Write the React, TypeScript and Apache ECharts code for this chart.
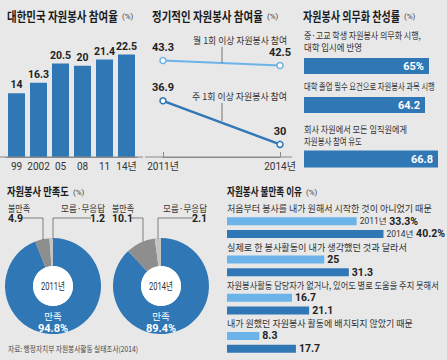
import React, { useEffect, useRef } from 'react';
import * as echarts from 'echarts';

// ---------- data ----------
// Panel 1: 대한민국 자원봉사 참여율
const yearLabels = ['99', '2002', '05', '08', '11', '14년'];
const participation = [14, 16.3, 20.5, 20, 21.4, 22.5];

// Panel 2: 정기적인 자원봉사 참여율
const regularYears = ['2011년', '2014년'];
const monthlyName = '월 1회 이상 자원봉사 참여';
const weeklyName = '주 1회 이상 자원봉사 참여';
const monthly = [43.3, 42.5];
const weekly = [36.9, 30];

// Panel 3: 자원봉사 의무화 찬성률
const mandatoryItems = [
  ['중·고교 학생 자원봉사 의무화 시행,', '대학 입시에 반영'],
  ['대학 졸업 필수 요건으로 자원봉사 과목 시행'],
  ['회사 차원에서 모든 임직원에게', '자원봉사 참여 유도'],
];
const mandatoryValues = [65, 64.2, 66.8];

// Panel 4: 자원봉사 만족도
const satisfactionYears = ['2011년', '2014년'];
const satisfactionNames = ['만족', '불만족', '모름·무응답'];
const satisfaction2011 = [94.8, 4.9, 1.2];
const satisfaction2014 = [89.4, 10.1, 2.1];

// Panel 5: 자원봉사 불만족 이유
const reasons = [
  '처음부터 봉사를 내가 원해서 시작한 것이 아니었기 때문',
  '실제로 한 봉사활동이 내가 생각했던 것과 달라서',
  '자원봉사활동 담당자가 없거나, 있어도 별로 도움을 주지 못해서',
  '내가 원했던 자원봉사 활동에 배치되지 않았기 때문',
];
const reasonYears = ['2011년', '2014년'];
const dissatisfaction2011 = [33.3, 25, 16.7, 8.3];
const dissatisfaction2014 = [40.2, 31.3, 21.1, 17.7];

const titles = [
  '대한민국 자원봉사 참여율',
  '정기적인 자원봉사 참여율',
  '자원봉사 의무화 찬성률',
  '자원봉사 만족도',
  '자원봉사 불만족 이유',
];
const unitText = '(%)';
const sourceText = '자료: 행정자치부 자원봉사활동 실태조사(2014)';

// ---------- style ----------
const FONT = '"Noto Sans CJK KR", sans-serif';
const NUM = '"Liberation Sans Narrow", "Roboto", "Noto Sans CJK KR", sans-serif';
const BLUE = '#3077b6';
const LIGHT = '#6bb3e8';
const GRAY = '#8e8e8e';
const LGRAY = '#c4c4c4';
const BG = '#e8e8e9';
const AXIS = '#8a8a8a';

let fitCtx: CanvasRenderingContext2D | null = null;
function fitScale(text: string, size: number, weight: string, family: string, target: number) {
  if (!fitCtx) fitCtx = document.createElement('canvas').getContext('2d');
  if (!fitCtx) return 1;
  fitCtx.font = `${weight} ${size}px ${family}`;
  const w = fitCtx.measureText(text).width;
  return w > 0 ? target / w : 1;
}

function T(text: string, x: number, y: number, o: any = {}) {
  const size = o.size ?? 9;
  const weight = o.weight ?? 'normal';
  const family = o.family ?? FONT;
  const sx = o.width ? fitScale(text, size, weight, family, o.width) : o.sx ?? 1;
  const align = o.align ?? 'left';
  return {
    type: 'text',
    x,
    y,
    scaleX: sx,
    z: 10,
    silent: true,
    style: {
      text,
      fill: o.fill ?? '#333',
      fontSize: size,
      fontWeight: weight,
      fontFamily: family,
      align,
      textAlign: align,
      verticalAlign: 'middle',
      textVerticalAlign: 'middle',
    },
  };
}

function L(points: number[][], color = '#666', width = 0.8) {
  return {
    type: 'polyline',
    z: 10,
    silent: true,
    shape: { points },
    style: { stroke: color, lineWidth: width, fill: null },
  };
}

export default function App() {
  const ref = useRef<HTMLDivElement>(null);
  useEffect(() => {
    document.body.style.margin = '0';
    const chart = echarts.init(ref.current!, null, { renderer: 'svg' });

    // panel 5 rows: label row + 2011 row + 2014 row per reason
    const rows5 = reasons.flatMap((_, i) => [`${i}-label`, `${i}-a`, `${i}-b`]);
    const s2011 = rows5.map((_, k) => (k % 3 === 1 ? dissatisfaction2011[(k - 1) / 3] : '-'));
    const s2014 = rows5.map((_, k) => (k % 3 === 2 ? dissatisfaction2014[(k - 2) / 3] : '-'));
    const grid5Top = 202;
    const grid5H = 153;
    const rowH = grid5H / rows5.length;

    const barLabelFmt = (yearIdx: number) => (p: any) => {
      const groupIdx = Math.floor(p.dataIndex / 3);
      const v = `${p.value}`;
      return groupIdx === 0 ? `{y|${reasonYears[yearIdx]}} {v|${v}%}` : `{v|${v}}`;
    };
    const barLabelRich = {
      y: { fontSize: 8.5, color: '#333', fontFamily: NUM },
      v: { fontSize: 10.5, fontWeight: 'bold', color: '#222', fontFamily: NUM },
    };

    const pieColors = [BLUE, GRAY, LGRAY];
    const pieCenters = [[53, 286], [161, 286]];
    const pieData = [satisfaction2011, satisfaction2014];

    const mandatoryTops = [58, 97, 150.5];
    const mandatoryHeights = [16, 16, 17];

    const graphics: any[] = [];
    // titles
    const titlePos = [
      [7, 15, 13, 111],
      [152, 15, 13, 111],
      [303, 15, 13, 97],
      [7, 191, 11.5, 62],
      [227, 191, 11.5, 75],
    ];
    titles.forEach((t, i) => {
      const [x, y, s, w] = titlePos[i];
      graphics.push(T(t, x, y, { size: s, weight: 'bold', width: w, fill: '#1a1a1a' }));
      graphics.push(T(unitText, x + w + 4, y + 1, { size: 8, fill: '#444', family: NUM }));
    });
    // axis extension lines
    graphics.push(L([[0, 157], [143, 157]], AXIS, 1));
    graphics.push(L([[145, 157], [292, 157]], AXIS, 1));
    // panel 2 annotations
    graphics.push(T(monthlyName, 287, 40, { size: 9.5, width: 94, align: 'right' }));
    graphics.push(L([[222, 47], [222, 63]], '#555'));
    graphics.push(T(weeklyName, 287, 96, { size: 9.5, width: 95, align: 'right' }));
    graphics.push(L([[222, 103], [222, 121]], '#555'));
    // panel 3 labels
    const m3Lines = [[35, 47], [86], [129, 141]];
    const m3Widths = [[117, 58], [131], [103, 58]];
    mandatoryItems.forEach((lines, i) => {
      lines.forEach((ln, j) => {
        graphics.push(T(ln, 304, m3Lines[i][j], { size: 9.5, width: m3Widths[i][j] }));
      });
    });
    // panel 4 donut texts
    const leftLabelX = [8, 112];
    const rightLabelX = [105, 207];
    const leaders = [
      [[[22, 218], [43, 218], [43, 240]], [[91, 218], [53, 218], [53, 239]]],
      [[[131, 218], [143, 218], [143, 242]], [[193, 218], [158, 218], [158, 239]]],
    ];
    pieData.forEach((d, i) => {
      const [cx, cy] = pieCenters[i];
      graphics.push({
        type: 'circle',
        z: 5,
        silent: true,
        shape: { cx, cy, r: 20 },
        style: { fill: '#ffffff' },
      });
      graphics.push(T(satisfactionYears[i], cx, cy + 1, { size: 10.5, width: 24, align: 'center', family: NUM }));
      graphics.push(T(satisfactionNames[0], cx, 315.5, { size: 9.5, fill: '#ffffff', align: 'center' }));
      graphics.push(T(`${d[0]}%`, cx, 328.5, { size: 11, weight: 'bold', fill: '#ffffff', align: 'center', family: NUM }));
      graphics.push(T(satisfactionNames[1], leftLabelX[i], 208, { size: 9.5, width: 22 }));
      graphics.push(T(`${d[1]}`, leftLabelX[i], 218.5, { size: 10.5, weight: 'bold', fill: '#222', family: NUM }));
      graphics.push(T(satisfactionNames[2], rightLabelX[i], 208, { size: 9.5, width: 44, align: 'right' }));
      graphics.push(T(`${d[2]}`, rightLabelX[i], 218.5, { size: 10.5, weight: 'bold', fill: '#222', align: 'right', family: NUM }));
      graphics.push(L(leaders[i][0]));
      graphics.push(L(leaders[i][1]));
    });
    // panel 5 category labels
    const reasonWidths = [205, 180, 212, 186];
    reasons.forEach((r, i) => {
      graphics.push(T(r, 227, grid5Top + rowH * (3 * i + 0.5), { size: 9.5, width: reasonWidths[i] }));
    });
    // source
    graphics.push(T(sourceText, 8, 348, { size: 8, width: 130, fill: '#444' }));

    const option: any = {
      animation: false,
      backgroundColor: BG,
      textStyle: { fontFamily: FONT },
      grid: [
        { left: 5.5, width: 132, top: 43, height: 114, outerBoundsMode: 'none' },
        { left: 163, width: 117, top: 43.4, height: 113.6, outerBoundsMode: 'none' },
        ...mandatoryTops.map((t, i) => ({ left: 304, right: 0, top: t, height: mandatoryHeights[i], outerBoundsMode: 'none' })),
        { left: 227, width: 218, top: grid5Top, height: grid5H, outerBoundsMode: 'none' },
      ],
      xAxis: [
        {
          gridIndex: 0,
          type: 'category',
          data: yearLabels,
          axisLine: { lineStyle: { color: AXIS, width: 1 } },
          axisTick: { show: false },
          axisLabel: { interval: 0, margin: 4, fontSize: 10, color: '#333', fontFamily: NUM },
        },
        {
          gridIndex: 1,
          type: 'category',
          data: regularYears,
          boundaryGap: false,
          axisLine: { lineStyle: { color: AXIS, width: 1 } },
          axisTick: { show: true, inside: true, length: 5, lineStyle: { color: AXIS } },
          axisLabel: { interval: 0, margin: 4, fontSize: 10, color: '#333', fontFamily: NUM },
        },
        ...mandatoryValues.map((_, i) => ({
          gridIndex: 2 + i,
          type: 'value',
          min: 40,
          max: 68.6,
          startValue: 40,
          show: false,
        })),
        { gridIndex: 5, type: 'value', min: 0, max: 56, show: false },
      ],
      yAxis: [
        { gridIndex: 0, type: 'value', min: 0, max: 25, show: false },
        { gridIndex: 1, type: 'value', min: 28, max: 46, show: false },
        ...mandatoryValues.map((_, i) => ({ gridIndex: 2 + i, type: 'category', data: [''], show: false })),
        { gridIndex: 5, type: 'category', data: rows5, inverse: true, show: false },
      ],
      series: [
        {
          type: 'bar',
          xAxisIndex: 0,
          yAxisIndex: 0,
          data: participation,
          barWidth: 17,
          itemStyle: { color: BLUE },
          label: {
            show: true,
            position: 'top',
            distance: 3,
            fontSize: 10.5,
            fontWeight: 'bold',
            color: '#222',
            fontFamily: NUM,
          },
        },
        {
          type: 'line',
          name: monthlyName,
          xAxisIndex: 1,
          yAxisIndex: 1,
          data: monthly,
          symbol: 'circle',
          symbolSize: 6,
          lineStyle: { color: LIGHT, width: 2 },
          itemStyle: { color: '#ffffff', borderColor: LIGHT, borderWidth: 1.5 },
          label: { show: true, position: 'top', distance: 4, fontSize: 11, fontWeight: 'bold', color: '#222', fontFamily: NUM },
        },
        {
          type: 'line',
          name: weeklyName,
          xAxisIndex: 1,
          yAxisIndex: 1,
          data: weekly,
          symbol: 'circle',
          symbolSize: 6,
          lineStyle: { color: BLUE, width: 2.5 },
          itemStyle: { color: '#ffffff', borderColor: BLUE, borderWidth: 1.5 },
          label: { show: true, position: 'top', distance: 4, fontSize: 11, fontWeight: 'bold', color: '#222', fontFamily: NUM },
        },
        ...mandatoryValues.map((v, i) => ({
          type: 'bar',
          xAxisIndex: 2 + i,
          yAxisIndex: 2 + i,
          data: [v],
          barWidth: '100%',
          clip: true,
          itemStyle: { color: BLUE },
          label: {
            show: true,
            position: 'insideRight',
            distance: 5,
            color: '#ffffff',
            fontSize: 11,
            fontWeight: 'bold',
            fontFamily: NUM,
            formatter: i === 0 ? '{c}%' : '{c}',
          },
        })),
        {
          type: 'bar',
          xAxisIndex: 5,
          yAxisIndex: 5,
          data: s2011,
          barWidth: 8,
          barGap: '-100%',
          itemStyle: { color: LIGHT },
          label: { show: true, position: 'right', distance: 3, formatter: barLabelFmt(0), rich: barLabelRich },
        },
        {
          type: 'bar',
          xAxisIndex: 5,
          yAxisIndex: 5,
          data: s2014,
          barWidth: 8,
          barGap: '-100%',
          itemStyle: { color: BLUE },
          label: { show: true, position: 'right', distance: 3, formatter: barLabelFmt(1), rich: barLabelRich },
        },
        ...pieData.map((d, i) => ({
          type: 'pie',
          center: pieCenters[i],
          radius: [20, 48],
          startAngle: 90,
          clockwise: true,
          silent: true,
          label: { show: false },
          labelLine: { show: false },
          itemStyle: { borderWidth: 0 },
          data: satisfactionNames.map((n, k) => ({ name: n, value: d[k], itemStyle: { color: pieColors[k] } })),
        })),
      ],
      graphic: graphics,
    };
    chart.setOption(option);
    return () => chart.dispose();
  }, []);
  return <div ref={ref} style={{ width: 447, height: 360, background: BG }} />;
}
